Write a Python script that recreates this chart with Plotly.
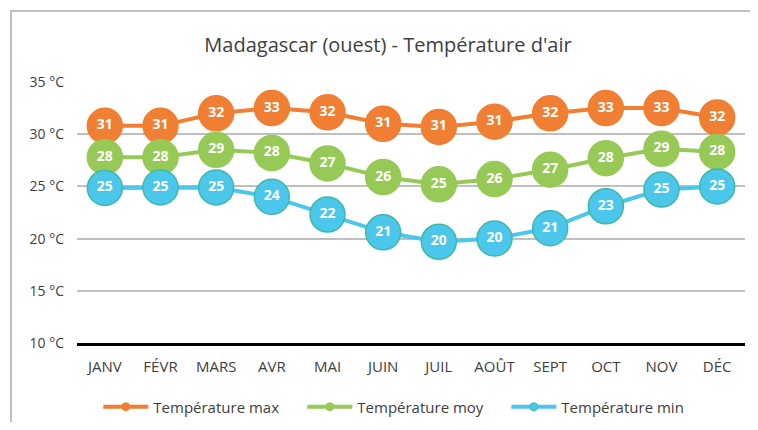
import plotly.graph_objects as go

months = ["JANV", "FÉVR", "MARS", "AVR", "MAI", "JUIN", "JUIL", "AOÛT", "SEPT", "OCT", "NOV", "DÉC"]
temp_max = [30.8, 30.8, 32.0, 32.5, 32.1, 31.0, 30.7, 31.2, 32.0, 32.5, 32.5, 31.6]
temp_moy = [27.8, 27.8, 28.5, 28.2, 27.2, 25.9, 25.2, 25.7, 26.6, 27.7, 28.6, 28.3]
temp_min = [24.85, 24.9, 24.9, 24.0, 22.3, 20.6, 19.7, 20.0, 21.0, 23.1, 24.7, 25.0]
series_names = ["Température max", "Température moy", "Température min"]
y_ticks = [10, 15, 20, 25, 30, 35]
y_tick_labels = [f"{v} °C" for v in y_ticks]

colors = ["#F07F33", "#97C957", "#4CC7EC"]
outline = ["#F07F33", "#97C957", "#3FB8A6"]

FONT = "Open Sans"
W, H = 750, 414

def label(v):
    return [str(int(x + 0.5)) for x in v]

fig = go.Figure()
for vals, name, c, oc in zip([temp_max, temp_moy, temp_min], series_names, colors, outline):
    fig.add_trace(go.Scatter(
        x=months, y=vals, mode="lines+markers+text", name=name, showlegend=False,
        line=dict(color=c, width=4),
        marker=dict(size=35, color=c, line=dict(color=oc, width=1.5)),
        text=label(vals), textposition="middle center",
        textfont=dict(family=FONT, size=14, color="white", weight="bold"),
        cliponaxis=False, hoverinfo="skip",
    ))
for name, c, oc in zip(series_names, colors, outline):
    fig.add_trace(go.Scatter(
        x=[None], y=[None], mode="lines+markers", name=name,
        line=dict(color=c, width=4),
        marker=dict(size=8, color=c, line=dict(color=oc, width=1)),
    ))

fig.update_layout(
    width=W, height=H,
    margin=dict(l=69, r=13, t=74, b=79),
    paper_bgcolor="white", plot_bgcolor="white",
    font=dict(family=FONT, color="#595959", size=14),
    title=dict(text="Madagascar (ouest) - Température d'air", x=0.4656, xref="paper",
               xanchor="center", y=1 - 37 / H, yref="container", yanchor="middle",
               font=dict(family=FONT, size=20, color="#404040")),
    xaxis=dict(type="category", range=[-0.5, 11.5], showgrid=False,
               showline=True, linecolor="black", linewidth=3,
               ticks="", ticklabelstandoff=8,
               tickfont=dict(size=15, color="#404040"), fixedrange=True),
    yaxis=dict(range=[10, 35], tickvals=y_ticks, ticktext=y_tick_labels,
               showgrid=True, gridcolor="#BFBFBF", gridwidth=1.5, zeroline=False,
               ticks="", ticklabelstandoff=12,
               tickfont=dict(size=14, color="#404040"), fixedrange=True),
    legend=dict(orientation="h", x=0.49, xanchor="center", y=1 - 399 / H, yref="container",
                yanchor="middle",
                font=dict(size=15, color="#404040"), entrywidth=144, itemwidth=45),
    showlegend=True,
    shapes=[
        dict(type="line", xref="paper", yref="paper", x0=-0.1, x1=1.019, y0=1.272, y1=1.272,
             line=dict(color="#BFBFBF", width=2)),
        dict(type="line", xref="paper", yref="paper", x0=-0.0988, x1=-0.0988, y0=1.272, y1=-0.35,
             line=dict(color="#BFBFBF", width=2)),
    ],
)

fig.write_html("out.html", config={"displayModeBar": False})
